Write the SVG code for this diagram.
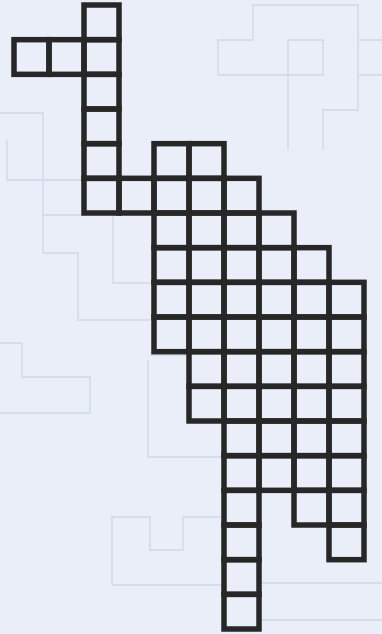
<svg xmlns="http://www.w3.org/2000/svg" width="382" height="634" viewBox="0 0 382 634">
<defs>
<style>
.bg{fill:#e9eef9}
.ghost{fill:none;stroke:#d5dcec;stroke-width:1.8}
.cell{fill:none;stroke:#272727;stroke-width:5.5;stroke-linejoin:miter}
</style>
</defs>
<rect class="bg" x="0" y="0" width="382" height="634"/>
<g id="show-through">
<path class="ghost" d="M253 40V5H358V110H323V150M218 75V40H253M218 75H323V40H288V150M358 40H382M358 75H382"/>
<path class="ghost" d="M0 113H43V215H84M7 140V180H84M43 215V253H78V320H150M113 215V283H150"/>
<path class="ghost" d="M0 343H22V377H90V413H0"/>
<path class="ghost" d="M148 360V457H224M150 355H190"/>
<path class="ghost" d="M112 585V517H150V550H183V517H224M112 585H224"/>
<path class="ghost" d="M260 583H382M260 620H382"/>
</g>
<g id="grid">
<rect class="cell" x="84" y="5" width="35" height="34.67"/>
<rect class="cell" x="14" y="39.67" width="35" height="34.67"/>
<rect class="cell" x="49" y="39.67" width="35" height="34.67"/>
<rect class="cell" x="84" y="39.67" width="35" height="34.67"/>
<rect class="cell" x="84" y="74.33" width="35" height="34.67"/>
<rect class="cell" x="84" y="109" width="35" height="34.67"/>
<rect class="cell" x="84" y="143.67" width="35" height="34.67"/>
<rect class="cell" x="154" y="143.67" width="35" height="34.67"/>
<rect class="cell" x="189" y="143.67" width="35" height="34.67"/>
<rect class="cell" x="84" y="178.33" width="35" height="34.67"/>
<rect class="cell" x="119" y="178.33" width="35" height="34.67"/>
<rect class="cell" x="154" y="178.33" width="35" height="34.67"/>
<rect class="cell" x="189" y="178.33" width="35" height="34.67"/>
<rect class="cell" x="224" y="178.33" width="35" height="34.67"/>
<rect class="cell" x="154" y="213" width="35" height="34.67"/>
<rect class="cell" x="189" y="213" width="35" height="34.67"/>
<rect class="cell" x="224" y="213" width="35" height="34.67"/>
<rect class="cell" x="259" y="213" width="35" height="34.67"/>
<rect class="cell" x="154" y="247.67" width="35" height="34.67"/>
<rect class="cell" x="189" y="247.67" width="35" height="34.67"/>
<rect class="cell" x="224" y="247.67" width="35" height="34.67"/>
<rect class="cell" x="259" y="247.67" width="35" height="34.67"/>
<rect class="cell" x="294" y="247.67" width="35" height="34.67"/>
<rect class="cell" x="154" y="282.33" width="35" height="34.67"/>
<rect class="cell" x="189" y="282.33" width="35" height="34.67"/>
<rect class="cell" x="224" y="282.33" width="35" height="34.67"/>
<rect class="cell" x="259" y="282.33" width="35" height="34.67"/>
<rect class="cell" x="294" y="282.33" width="35" height="34.67"/>
<rect class="cell" x="329" y="282.33" width="35" height="34.67"/>
<rect class="cell" x="154" y="317" width="35" height="34.67"/>
<rect class="cell" x="189" y="317" width="35" height="34.67"/>
<rect class="cell" x="224" y="317" width="35" height="34.67"/>
<rect class="cell" x="259" y="317" width="35" height="34.67"/>
<rect class="cell" x="294" y="317" width="35" height="34.67"/>
<rect class="cell" x="329" y="317" width="35" height="34.67"/>
<rect class="cell" x="189" y="351.67" width="35" height="34.67"/>
<rect class="cell" x="224" y="351.67" width="35" height="34.67"/>
<rect class="cell" x="259" y="351.67" width="35" height="34.67"/>
<rect class="cell" x="294" y="351.67" width="35" height="34.67"/>
<rect class="cell" x="329" y="351.67" width="35" height="34.67"/>
<rect class="cell" x="189" y="386.33" width="35" height="34.67"/>
<rect class="cell" x="224" y="386.33" width="35" height="34.67"/>
<rect class="cell" x="259" y="386.33" width="35" height="34.67"/>
<rect class="cell" x="294" y="386.33" width="35" height="34.67"/>
<rect class="cell" x="329" y="386.33" width="35" height="34.67"/>
<rect class="cell" x="224" y="421" width="35" height="34.67"/>
<rect class="cell" x="259" y="421" width="35" height="34.67"/>
<rect class="cell" x="294" y="421" width="35" height="34.67"/>
<rect class="cell" x="329" y="421" width="35" height="34.67"/>
<rect class="cell" x="224" y="455.67" width="35" height="34.67"/>
<rect class="cell" x="259" y="455.67" width="35" height="34.67"/>
<rect class="cell" x="294" y="455.67" width="35" height="34.67"/>
<rect class="cell" x="329" y="455.67" width="35" height="34.67"/>
<rect class="cell" x="224" y="490.33" width="35" height="34.67"/>
<rect class="cell" x="294" y="490.33" width="35" height="34.67"/>
<rect class="cell" x="329" y="490.33" width="35" height="34.67"/>
<rect class="cell" x="224" y="525" width="35" height="34.67"/>
<rect class="cell" x="329" y="525" width="35" height="34.67"/>
<rect class="cell" x="224" y="559.67" width="35" height="34.67"/>
<rect class="cell" x="224" y="594.33" width="35" height="34.67"/>
</g>
</svg>
